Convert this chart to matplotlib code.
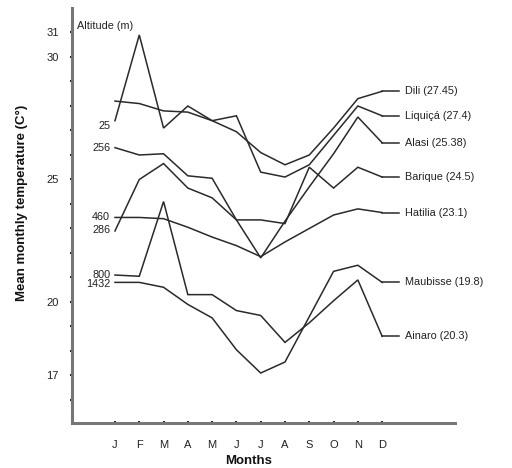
import matplotlib
matplotlib.use("Agg")
import matplotlib.pyplot as plt

plt.rcParams['font.family'] = ['Liberation Sans', 'DejaVu Sans']

months = ["J", "F", "M", "A", "M", "J", "J", "A", "S", "O", "N", "D"]
month_pos = list(range(1, 13))

dili     = [28.2, 28.1, 27.8, 27.75, 27.4, 26.95, 26.1, 25.6, 26.0, 27.1, 28.3, 28.6]
liquica  = [27.4, 30.9, 27.1, 28.0, 27.4, 27.6, 25.3, 25.1, 25.6, 26.8, 28.0, 27.6]
alasi    = [26.3, 26.0, 26.05, 25.15, 25.05, 23.35, 21.8, 23.3, 24.7, 26.05, 27.55, 26.5]
barique  = [22.9, 25.0, 25.65, 24.65, 24.25, 23.35, 23.35, 23.2, 25.5, 24.65, 25.5, 25.1]
hatilia  = [23.45, 23.45, 23.4, 23.05, 22.65, 22.3, 21.85, 22.45, 23.0, 23.55, 23.8, 23.65]
maubisse = [20.8, 20.8, 20.6, 19.9, 19.35, 18.05, 17.1, 17.55, 19.4, 21.25, 21.5, 20.8]
ainaro   = [21.1, 21.05, 24.1, 20.3, 20.3, 19.65, 19.45, 18.35, 19.15, 20.05, 20.9, 18.6]

series = [dili, liquica, alasi, barique, hatilia, maubisse, ainaro]
end_labels = ["Dili (27.45)", "Liquiçá (27.4)", "Alasi (25.38)", "Barique (24.5)",
              "Hatilia (23.1)", "Maubisse (19.8)", "Ainaro (20.3)"]
altitude_labels = ["25", "256", "460", "286", "800", "1432"]
altitude_y = [27.2, 26.3, 23.45, 22.95, 21.1, 20.75]

yticks = [17, 20, 25, 30, 31]

fig = plt.figure(figsize=(5.12, 4.68), dpi=100)
ax = fig.add_axes([72/512, 45/468, 383/512, 415/468])
ax.set_xlim(-0.77, 15.0)
ax.set_ylim(15.06, 32.0)

lc = '#2a2a2a'
for vals, lab in zip(series, end_labels):
    ax.plot(month_pos, vals, color=lc, lw=1.1, solid_joinstyle='miter')
    ax.plot([12, 12.7], [vals[-1], vals[-1]], color=lc, lw=1.1)
    ax.text(12.95, vals[-1], lab, fontsize=7.8, va='center', ha='left', color='#222222')

for t, yv in zip(altitude_labels, altitude_y):
    ax.text(0.8, yv, t, fontsize=7.8, ha='right', va='center', color='#222222')
ax.text(-0.55, 31.25, "Altitude (m)", fontsize=7.8, ha='left', va='center', color='#222222')

for s in ['top', 'right']:
    ax.spines[s].set_visible(False)
for s in ['left', 'bottom']:
    ax.spines[s].set_linewidth(2.2)
    ax.spines[s].set_color('#777777')

ax.set_xticks(month_pos)
ax.set_xticklabels(months, fontsize=8, color='#222222')
ax.set_yticks(yticks)
ax.set_yticklabels([str(v) for v in yticks], fontsize=8, color='#222222')
ax.set_yticks(range(16, 32), minor=True)
ax.tick_params(axis='both', which='both', direction='inout', length=3, width=1.5, color='#222222')
ax.tick_params(axis='x', pad=11)
ax.tick_params(axis='y', pad=8)

ax.set_xlabel("Months", fontsize=9.5, fontweight='bold', color='#111111')
ax.xaxis.set_label_coords(0.46, -0.077)
ax.set_ylabel("Mean monthly temperature (C°)", fontsize=9.5, fontweight='bold', color='#111111')
ax.yaxis.set_label_coords(-0.115, 0.53)

fig.savefig("out.png", dpi=100)
